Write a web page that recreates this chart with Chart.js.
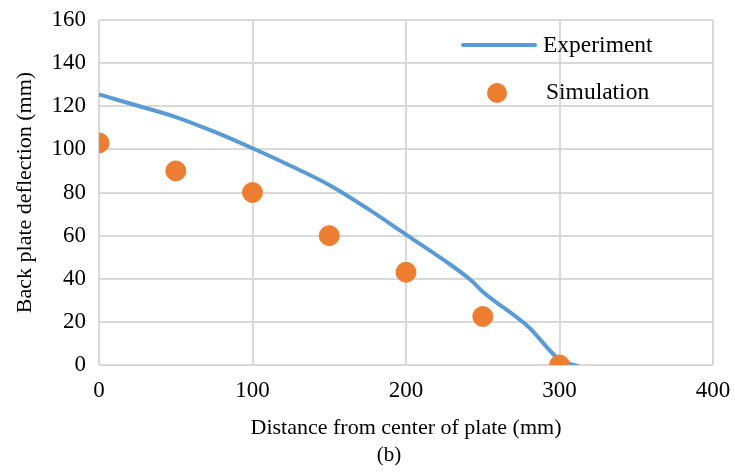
<!DOCTYPE html>
<html><head><meta charset="utf-8">
<script src="https://cdn.jsdelivr.net/npm/chart.js@4/dist/chart.umd.min.js"></script>
<style>
html,body{margin:0;padding:0;background:#fff;}
#wrap{position:relative;width:735px;height:476px;}
#cap{position:absolute;left:369px;top:441px;width:40px;text-align:center;font-family:"Liberation Serif",serif;font-size:21px;line-height:26px;color:#000;}
</style></head>
<body>
<div id="wrap"><canvas id="c" width="735" height="476"></canvas><div id="cap">(b)</div></div>
<script>
const expX = [0, 15, 50, 75, 100, 125, 150, 175, 200, 225, 242, 250, 280, 300, 312];
const expY = [125.5, 122.3, 115, 108.2, 100.5, 92.3, 83.5, 72.5, 60.5, 48.5, 39.5, 34, 17.5, 2.5, -0.5];
const simX = [0, 50, 100, 150, 200, 250, 300];
const simY = [103, 90, 80, 60, 43, 22.5, 0];
const xTicks = [0, 100, 200, 300, 400];
const yTicks = [0, 20, 40, 60, 80, 100, 120, 140, 160];
const seriesNames = ["Experiment", "Simulation"];
const blue = "#5b9bd5", orange = "#ed7d31";
const font = {family: "'Liberation Serif', serif", size: 23};
const titleFont = {family: "'Liberation Serif', serif", size: 22};

const legendPlugin = {
  id: 'customLegend',
  afterDraw(chart) {
    const ctx = chart.ctx;
    ctx.save();
    ctx.font = "23.5px 'Liberation Serif', serif";
    ctx.fillStyle = "#000";
    ctx.textBaseline = "middle";
    ctx.strokeStyle = blue; ctx.lineWidth = 4; ctx.lineCap = "round";
    ctx.beginPath(); ctx.moveTo(463, 45); ctx.lineTo(535, 45); ctx.stroke();
    ctx.fillText(seriesNames[0], 543, 46);
    ctx.fillStyle = orange;
    ctx.beginPath(); ctx.arc(497, 93, 10, 0, Math.PI*2); ctx.fill();
    ctx.fillStyle = "#000";
    ctx.fillText(seriesNames[1], 546, 93);
    ctx.restore();
  }
};

new Chart(document.getElementById('c'), {
  type: 'scatter',
  data: {
    datasets: [
      {label: seriesNames[0], data: expX.map((x,i)=>({x, y: expY[i]})), showLine: true,
       borderColor: blue, borderWidth: 4, pointRadius: 0, cubicInterpolationMode: 'monotone', order: 2},
      {label: seriesNames[1], data: simX.map((x,i)=>({x, y: simY[i]})), showLine: false,
       backgroundColor: orange, borderColor: orange, pointRadius: 10, pointHoverRadius: 10, order: 1}
    ]
  },
  options: {
    responsive: false, animation: false,
    layout: {padding: {top: 20, right: 22, left: 0, bottom: 35}},
    plugins: {legend: {display: false}, tooltip: {enabled: false}},
    scales: {
      x: {
        type: 'linear', min: 0, max: 400,
        afterBuildTicks: s => { s.ticks = xTicks.map(v => ({value: v})); },
        afterFit: s => { s.height = 76; s.paddingLeft = 0; s.paddingRight = 0; },
        grid: {color: '#d9d9d9', lineWidth: 2, drawTicks: false},
        border: {display: false},
        ticks: {font, color: '#000', padding: 12, maxRotation: 0},
        title: {display: true, text: 'Distance from center of plate (mm)', font: titleFont, color: '#000', padding: {top: 10, bottom: 0}}
      },
      y: {
        type: 'linear', min: 0, max: 160,
        afterBuildTicks: s => { s.ticks = yTicks.map(v => ({value: v})); },
        afterFit: s => { s.width = 99; s.paddingTop = 0; s.paddingBottom = 0; },
        grid: {color: '#d9d9d9', lineWidth: 2, drawTicks: false},
        border: {display: false},
        ticks: {font, color: '#000', padding: 13},
        title: {display: true, text: 'Back plate deflection (mm)', font: titleFont, color: '#000', padding: {top: 12, bottom: 4}}
      }
    }
  },
  plugins: [legendPlugin]
});
</script>
</body></html>
